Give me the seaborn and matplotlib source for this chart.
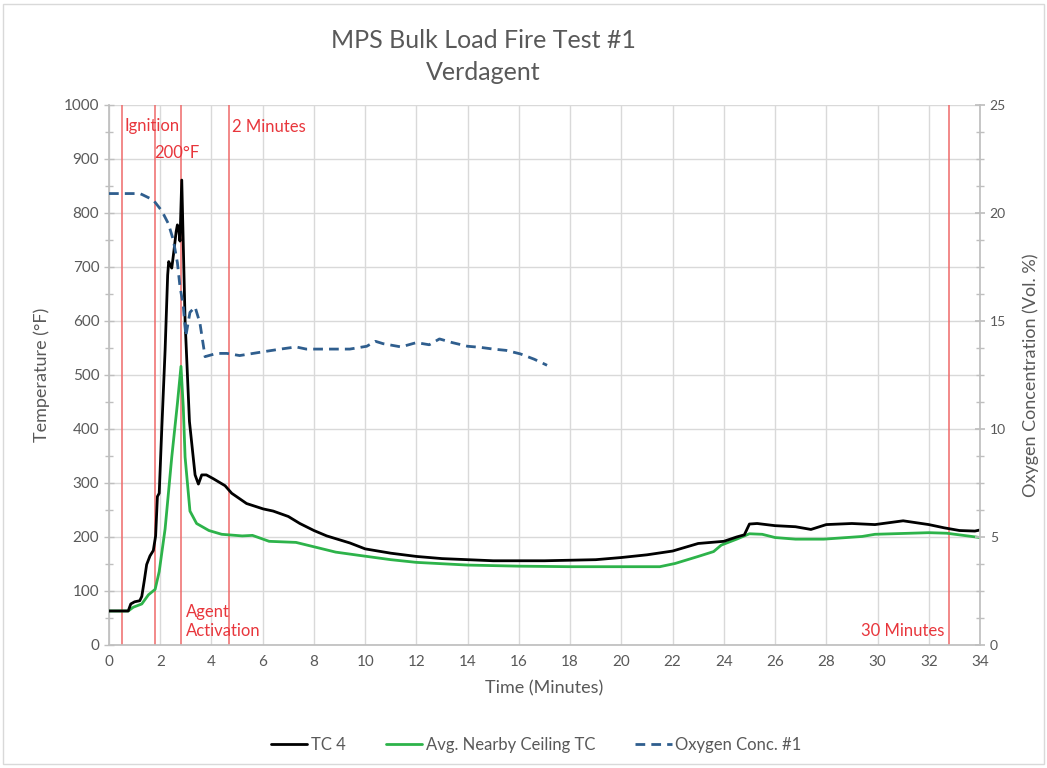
import matplotlib
matplotlib.use("Agg")
import matplotlib.pyplot as plt
import seaborn as sns
import pandas as pd
from matplotlib.lines import Line2D
from matplotlib.patches import Rectangle
from matplotlib.ticker import MultipleLocator

# ---------------------------------------------------------------------------
# Datos
# ---------------------------------------------------------------------------
tc4_time = [0, 0.75, 0.85, 1.0, 1.2, 1.28, 1.38, 1.47, 1.6, 1.73, 1.82, 1.89, 1.96, 2.06, 2.19,
            2.29, 2.33, 2.38, 2.45, 2.54, 2.62, 2.67, 2.72, 2.77, 2.84, 2.97, 3.14, 3.36, 3.49, 3.62,
            3.8, 4.07, 4.53, 4.79, 5.37, 6.02, 6.41, 7.0, 7.45, 8.0, 8.5, 9.4, 10, 11, 12,
            13, 14, 15, 16, 17, 18, 19, 20, 21, 22, 23, 24, 24.5, 24.8, 25.0,
            25.3, 26, 26.8, 27.4, 28, 29, 29.9, 31.0, 32, 32.6, 33.2, 33.8, 34]
tc4_temp = [63, 63, 76, 80, 82, 90, 120, 149, 165, 175, 202, 275, 281, 400, 546,
            685, 710, 705, 698, 732, 765, 778, 770, 748, 861, 600, 414, 315, 298, 315,
            315, 308, 295, 281, 262, 252, 248, 238, 225, 212, 202, 189, 178, 170, 164,
            160, 158, 156, 156, 156, 157, 158, 162, 167, 174, 188, 192, 200, 204, 224,
            225, 221, 219, 214, 223, 225, 223, 230, 223, 217, 212, 211, 213]

ceiling_time = [0, 0.75, 0.95, 1.28, 1.54, 1.8, 1.96, 2.19, 2.45, 2.67, 2.81, 2.9, 2.97, 3.16, 3.42,
                3.9, 4.4, 5.2, 5.6, 6.25, 7.3, 8.85, 9.76, 11, 12, 14, 16, 18, 20, 21.5,
                22.1, 23, 23.6, 23.9, 24.5, 25, 25.5, 26, 26.8, 27.9, 29.4, 29.9, 32, 32.7, 34]
ceiling_temp = [63, 63, 70, 76, 93, 103, 136, 215, 348, 447, 516, 440, 348, 248, 225,
                212, 205, 202, 203, 192, 190, 172, 166, 158, 153, 148, 146, 145, 145, 145,
                151, 164, 173, 185, 196, 206, 205, 199, 196, 196, 201, 205, 208, 207, 199]

o2_time = [0, 1.2, 1.3, 1.73, 2.06, 2.32, 2.51, 2.67, 2.77, 2.9, 3.0, 3.16, 3.36, 3.55,
           3.75, 4.2, 4.6, 5.1, 6.15, 6.7, 7.3, 7.7, 8.75, 9.4, 10.06, 10.4, 10.7, 11.4, 12.0,
           12.5, 12.9, 13.4, 14.0, 14.5, 15.0, 15.5, 16.05, 16.6, 17.1]
o2_conc = [20.9, 20.9, 20.85, 20.6, 20.1, 19.5, 18.75, 17.7, 16.6, 15.7, 14.3, 15.4, 15.65, 14.9,
           13.35, 13.5, 13.5, 13.4, 13.6, 13.7, 13.8, 13.7, 13.7, 13.7, 13.83, 14.06, 13.95, 13.8, 14.0,
           13.9, 14.17, 14.0, 13.83, 13.78, 13.7, 13.64, 13.48, 13.23, 12.95]

# Eventos (líneas verticales rojas)
event_time = [0.5, 1.8, 2.8, 4.7, 32.8]

x_ticks = list(range(0, 35, 2))
temp_ticks = list(range(0, 1001, 100))
o2_ticks = [0, 5, 10, 15, 20, 25]

# ---------------------------------------------------------------------------
# Estilo
# ---------------------------------------------------------------------------
sns.set_theme(style="white")
plt.rcParams["font.family"] = ["Lato", "DejaVu Sans"]

GRIS = "#595959"
GRID = "#D9D9D9"
EJE = "#BFBFBF"
ROJO = "#E8363C"
ROJO_LINEA = "#EF6A6A"
NEGRO = "#000000"
VERDE = "#2DB34A"
AZUL = "#2F5E8E"

df_tc4 = pd.DataFrame({"t": tc4_time, "v": tc4_temp})
df_ceil = pd.DataFrame({"t": ceiling_time, "v": ceiling_temp})
df_o2 = pd.DataFrame({"t": o2_time, "v": o2_conc})

fig = plt.figure(figsize=(10.47, 7.68), dpi=100)
ax = fig.add_axes([109 / 1047, 123 / 768, 871 / 1047, 540 / 768])
ax2 = ax.twinx()

# Líneas de eventos
for t in event_time:
    ax.axvline(t, color=ROJO_LINEA, lw=1.1, zorder=1.5)

sns.lineplot(data=df_ceil, x="t", y="v", ax=ax, color=VERDE, lw=2.0, zorder=3)
sns.lineplot(data=df_tc4, x="t", y="v", ax=ax, color=NEGRO, lw=2.0, zorder=4)
sns.lineplot(data=df_o2, x="t", y="v", ax=ax2, color=AZUL, lw=2.0, dashes=False,
             linestyle=(0, (3.5, 2.2)), zorder=3)

# Ejes
ax.set_xlim(0, 34)
ax.set_ylim(0, 1000)
ax2.set_ylim(0, 25)
ax.set_xticks(x_ticks)
ax.set_yticks(temp_ticks)
ax2.set_yticks(o2_ticks)
ax.xaxis.set_minor_locator(MultipleLocator(0.5))
ax.yaxis.set_minor_locator(MultipleLocator(50))
ax2.yaxis.set_minor_locator(MultipleLocator(1.25))

ax.grid(True, which="major", color=GRID, lw=1.0)
ax.set_axisbelow(True)

for a in (ax, ax2):
    for s in a.spines.values():
        s.set_visible(False)
ax.spines["bottom"].set_visible(True)
ax.spines["left"].set_visible(True)
ax2.spines["right"].set_visible(True)
ax.spines["bottom"].set_color(EJE)
ax.spines["left"].set_color(EJE)
ax2.spines["right"].set_color(EJE)

ax.tick_params(axis="both", which="both", colors=EJE, labelcolor=GRIS, labelsize=11,
               direction="inout")
ax.tick_params(axis="both", which="major", length=7, width=1)
ax.tick_params(axis="both", which="minor", length=6, width=1)
ax2.tick_params(axis="y", which="both", colors=EJE, labelcolor=GRIS, labelsize=10,
                direction="inout")
ax2.tick_params(axis="y", which="major", length=7)
ax2.tick_params(axis="y", which="minor", length=6)

ax.set_xlabel("Time (Minutes)", fontsize=13, color=GRIS, labelpad=8)
ax.set_ylabel("Temperature (°F)", fontsize=13, color=GRIS, labelpad=10)
ax2.set_ylabel("Oxygen Concentration (Vol. %)", fontsize=13, color=GRIS, labelpad=12)

# Etiquetas de eventos
ax.text(0.6, 975, "Ignition", color=ROJO, fontsize=12, va="top", ha="left")
ax.text(1.75, 925, "200°F", color=ROJO, fontsize=12, va="top", ha="left")
ax.text(4.8, 975, "2 Minutes", color=ROJO, fontsize=12, va="top", ha="left")
ax.text(3.0, 75, "Agent\nActivation", color=ROJO, fontsize=12, va="top", ha="left",
        linespacing=1.2)
ax.text(32.6, 40, "30 Minutes", color=ROJO, fontsize=12, va="top", ha="right")

# Título
fig.text(483 / 1047, 1 - 40 / 768, "MPS Bulk Load Fire Test #1", ha="center", va="center",
         fontsize=18, color=GRIS)
fig.text(483 / 1047, 1 - 72 / 768, "Verdagent", ha="center", va="center",
         fontsize=18, color=GRIS)

# Leyenda
handles = [
    Line2D([], [], color=NEGRO, lw=2),
    Line2D([], [], color=VERDE, lw=2),
    Line2D([], [], color=AZUL, lw=2, linestyle=(0, (3.5, 2.2))),
]
labels = ["TC 4", "Avg. Nearby Ceiling TC", "Oxygen Conc. #1"]
fig.legend(handles, labels, loc="center", bbox_to_anchor=(536 / 1047, 1 - 745 / 768),
           ncol=3, frameon=False, fontsize=12, handlelength=2.2, handletextpad=0.2,
           columnspacing=2.4, labelcolor=GRIS)

# Marco exterior
fig.patches.append(Rectangle((3 / 1047, 4 / 768), 1 - 6 / 1047, 1 - 8 / 768,
                             transform=fig.transFigure, fill=False, edgecolor=GRID, lw=1))

fig.savefig("out.png", dpi=100)
plt.close(fig)
